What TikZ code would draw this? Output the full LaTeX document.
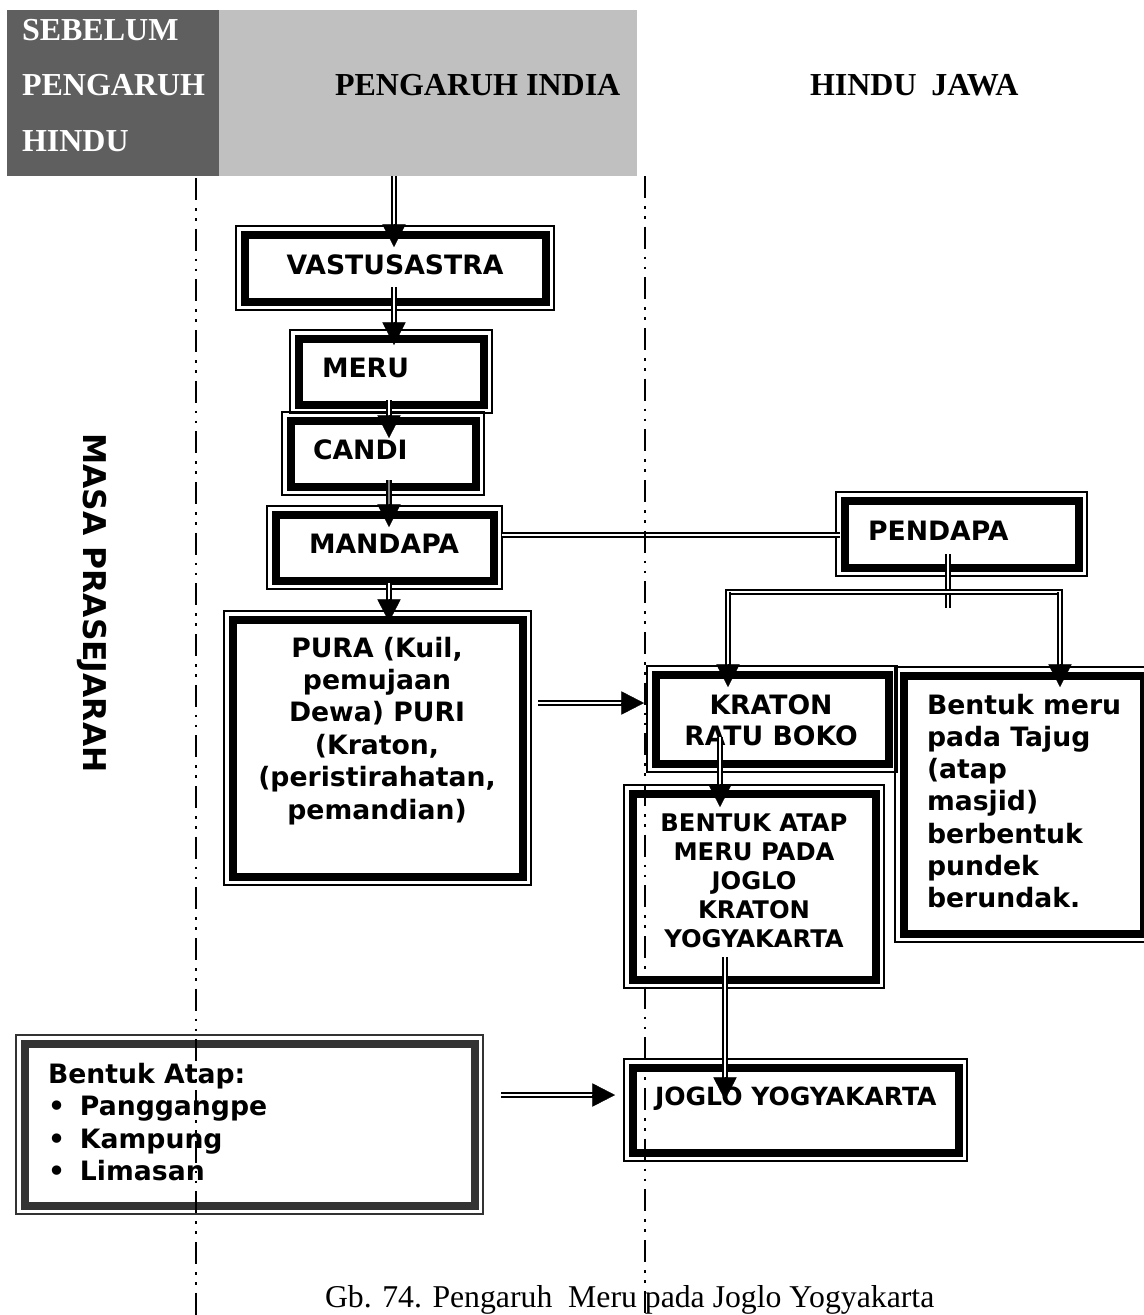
\documentclass[tikz,border=0pt]{standalone}
\usepackage{fontspec}
\setmainfont{Liberation Serif}
\newfontfamily\vd{DejaVu Sans}
\usetikzlibrary{arrows.meta,calc}
\definecolor{hdrdk}{HTML}{5F5F5F}
\definecolor{hdrlt}{HTML}{C0C0C0}
\definecolor{boxdk}{HTML}{333333}
\tikzset{
  x=.75pt,y=-.75pt,
  outerbox/.style={draw=#1,line width=.8pt,inner sep=0,outer sep=0,rectangle},
  outerbox/.default=black,
  band/.style={draw=#1,line width=6pt,line join=miter},
  band/.default=black,
  hdrbox/.style={rectangle,inner sep=0,outer sep=0,draw=none},
  lab/.style={inner sep=0,outer sep=0,text=black,font=\vd\bfseries\fontsize{20}{24}\selectfont},
  labs/.style={lab,font=\vd\bfseries\fontsize{18.2}{22}\selectfont},
  labj/.style={lab,font=\vd\bfseries\fontsize{18.8}{22}\selectfont},
  labm/.style={lab,font=\vd\bfseries\fontsize{23.5}{28}\selectfont},
  hdrtxt/.style={inner sep=0,outer sep=0,font=\bfseries\fontsize{24}{28}\selectfont},
  dbln/.style={draw=black,line width=1.6pt,double=white,double distance=2pt,line join=miter,line cap=butt},
  dblt/.style={draw=black,double=gray,line width=1.9pt,double distance=1pt,line cap=butt},
  tipst/.style={draw=black,line width=.2pt,-{Triangle[length=17pt,width=17.5pt]}},
  bound/.style={draw=black,line width=1.5pt,dash pattern=on 16.5pt off 6pt on 2pt off 5.5pt on 2pt off 6pt},
}
\newcommand\dbox[6][black]{%
  \pgfmathsetmacro\bw{(#5-#3)*.75}\pgfmathsetmacro\bh{(#6-#4)*.75}%
  \node[outerbox=#1,minimum width=\bw pt,minimum height=\bh pt] (#2) at ({(#3+#5)/2},{(#4+#6)/2}) {};
  \draw[band=#1] ([shift={(8.5,8.5)}]#2.north west) rectangle ([shift={(-8.5,-8.5)}]#2.south east);}
\newcommand\stackc[2]{\vtop{\baselineskip=#1\lineskiplimit=-100pt\lineskip=0pt\halign{\hfil##\hfil\cr #2\cr}}}
\newcommand\stackl[2]{\vtop{\baselineskip=#1\lineskiplimit=-100pt\lineskip=0pt\halign{##\hfil\cr #2\cr}}}
\newcommand\arr[3][dbln]{%
  \coordinate (tmpS) at #2;\coordinate (tmpE) at #3;
  \draw[#1] (tmpS) -- ($(tmpE)!13pt!(tmpS)$);
  \draw[tipst] ($(tmpE)!17pt!(tmpS)$) -- (tmpE);}
\begin{document}
\begin{tikzpicture}
\useasboundingbox (0,0) rectangle (1144,1315);
\clip (0,0) rectangle (1144,1315);
% header
\node[hdrbox,fill=hdrdk,minimum width=159pt,minimum height=124.5pt] (hdrdark) at (113,93) {};
\node[hdrbox,fill=hdrlt,minimum width=313.5pt,minimum height=124.5pt] (hdrlight) at (428,93) {};
\node[hdrtxt,text=white,anchor=base west] (sebelum) at (22,40) {SEBELUM};
\node[hdrtxt,text=white,anchor=base west] (pengaruh) at (22,95) {PENGARUH};
\node[hdrtxt,text=white,anchor=base west] (hindu) at (22,151) {HINDU};
\node[hdrtxt,anchor=base west] (india) at (335,95) {PENGARUH INDIA};
\node[hdrtxt,anchor=base west] (jawa) at (810,95) {HINDU\hspace{5pt} JAWA};
% boxes
\dbox{vastu}{236}{226}{554}{310}
\dbox{meru}{290}{330}{492}{413}
\dbox{candi}{282}{412}{484}{495}
\dbox{mandapa}{267}{506}{502}{589}
\dbox{pura}{224}{611}{531}{885}
\dbox{pendapa}{836}{492}{1087}{576}
\dbox{kraton}{647}{666}{897}{772}
\dbox{tajug}{895}{667}{1152}{942}
\dbox{atapmeru}{624}{785}{884}{988}
\dbox{joglo}{624}{1059}{967}{1161}
\dbox[boxdk]{atap}{16}{1035}{483}{1214}
% texts
\node[lab,anchor=base] (tvastu) at (395,274) {VASTUSASTRA};
\node[lab,anchor=base west] (tmeru) at (322,377) {MERU};
\node[lab,anchor=base west] (tcandi) at (313,459) {CANDI};
\node[lab,anchor=base west] (tmandapa) at (309,553) {MANDAPA};
\node[lab,anchor=base] (tpura) at (377,657) {\stackc{24.3pt}{PURA (Kuil,\cr pemujaan\cr Dewa) PURI\cr (Kraton,\cr (peristirahatan,\cr pemandian)}};
\node[lab,anchor=base west] (tpendapa) at (868,540) {PENDAPA};
\node[lab,anchor=base] (tkraton) at (771,714) {\stackc{23.3pt}{KRATON\cr RATU BOKO}};
\node[lab,anchor=base west] (ttajug) at (927,714) {\stackl{24.2pt}{Bentuk meru\cr pada Tajug\cr (atap\cr masjid)\cr berbentuk\cr pundek\cr berundak.}};
\node[labs,anchor=base] (tatapmeru) at (754,831) {\stackc{21.8pt}{BENTUK ATAP\cr MERU PADA\cr JOGLO\cr KRATON\cr YOGYAKARTA}};
\node[labj,anchor=base west] (tjoglo) at (655,1105) {JOGLO YOGYAKARTA};
\node[lab,anchor=base west] (tatap) at (48,1083) {\stackl{24.4pt}{Bentuk Atap:\cr \hbox to 24pt{\textbullet\hfil}Panggangpe\cr \hbox to 24pt{\textbullet\hfil}Kampung\cr \hbox to 24pt{\textbullet\hfil}Limasan}};
\node[labm,anchor=base,rotate=-90] (masa) at (83,603) {MASA PRASEJARAH};
\node[inner sep=0,outer sep=0,anchor=base west,font=\fontsize{23.8}{28}\selectfont] (caption) at (325,1307) {Gb. 74. Pengaruh\ \ Meru pada Joglo Yogyakarta};
% connectors
\arr{($(hdrlight.south west)+(175,0)$)}{($(vastu.north west)+(158,21)$)}
\arr{($(vastu.north west)+(158,61)$)}{($(meru.north west)+(104,15)$)}
\arr{($(meru.north west)+(99,70)$)}{($(candi.north west)+(107,26)$)}
\arr[dblt]{($(candi.north west)+(107,68)$)}{($(mandapa.north west)+(122,21)$)}
\arr{($(mandapa.north west)+(122,77)$)}{($(pura.north west)+(165,11)$)}
\draw[dbln] ($(mandapa.north east)+(0,29)$) -- ($(pendapa.north west)+(4,43)$);
\arr{($(pura.north east)+(7,92)$)}{($(kraton.north west)+(-3,37)$)}
\draw[dbln] ($(pendapa.north west)+(112,62)$) -- ($(pendapa.north west)+(112,116)$);
\coordinate (elbL) at ($(kraton.north west)+(81,-74)$);
\coordinate (elbR) at ($(tajug.north west)+(165,-75)$);
\draw[dbln] ($(kraton.north west)+(81,10)$) -- (elbL) -- (elbR) -- ($(tajug.north west)+(165,10)$);
\arr{(elbL)}{($(kraton.north west)+(81,21)$)}
\arr{(elbR)}{($(tajug.north west)+(165,20)$)}
\arr{($(kraton.north west)+(73,71)$)}{($(atapmeru.north west)+(96,22)$)}
\arr{($(atapmeru.north west)+(101,172)$)}{($(joglo.north west)+(101,41)$)}
\arr{($(atap.north east)+(18,60)$)}{($(joglo.north west)+(-9,36)$)}
% vertical boundaries
\coordinate (bl1) at ($(hdrdark.south west)+(189,2)$);
\coordinate (bl2) at (196,1315);
\coordinate (br1) at ($(hdrlight.south east)+(8,0)$);
\coordinate (br2) at (645,1315);
\draw[bound] (bl1) -- (bl2);
\draw[bound] (br1) -- (br2);
\end{tikzpicture}
\end{document}
